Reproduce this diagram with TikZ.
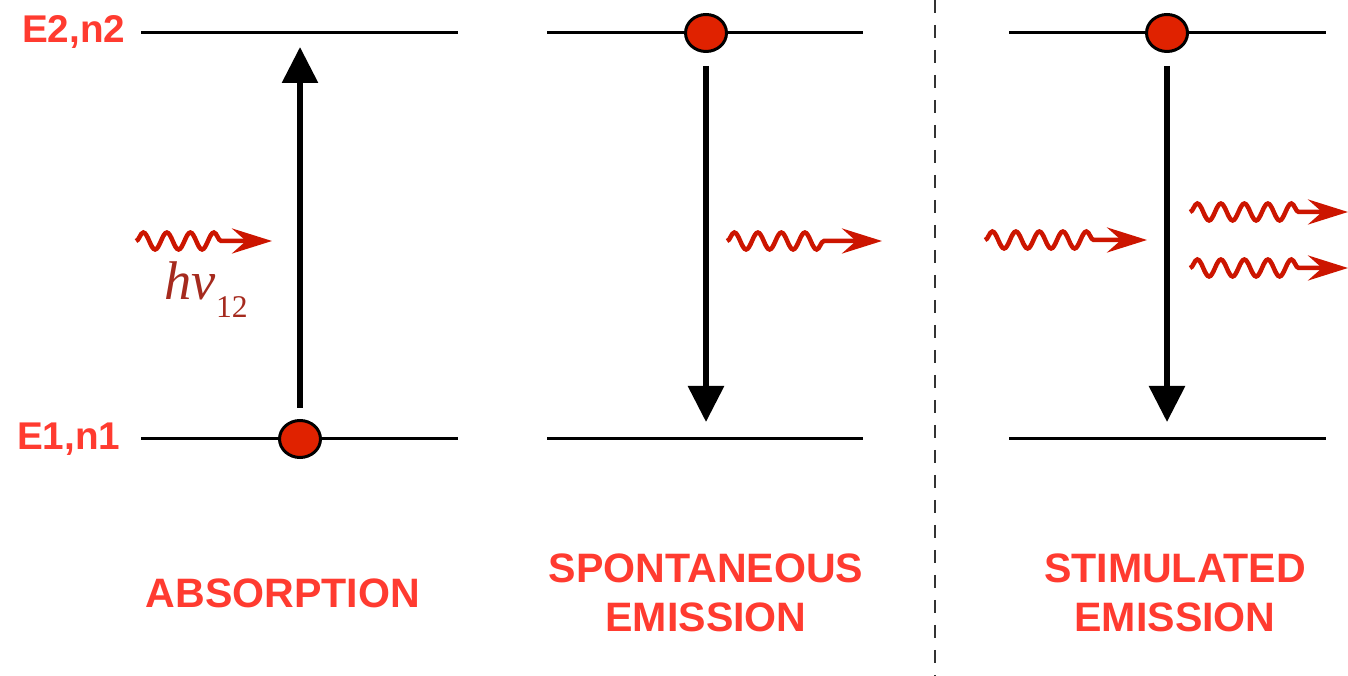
\documentclass[tikz,border=0pt]{standalone}
\usepackage{fontspec}
\setmainfont{Liberation Serif}
\setsansfont{Liberation Sans}
\usepackage{tikz}
\usetikzlibrary{shapes.geometric,arrows.meta,decorations.pathmorphing}

\definecolor{lblred}{HTML}{FF3B30}
\definecolor{elred}{HTML}{E02200}
\definecolor{phred}{HTML}{CC1500}
\definecolor{hvred}{HTML}{A52A1E}

\tikzset{
	level/.style={line width=0.3mm},
	electron/.style={ellipse, draw, line width=0.3mm, fill=elred, minimum width=4.1mm, minimum height=3.7mm, inner sep=0pt},
	trans/.style={line width=0.6mm, -{Triangle[width=3.5mm,length=3.6mm]}},
	photon/.style={phred, line width=0.45mm, -{Stealth[length=4mm,width=2.5mm,inset=1.4mm]},
		decorate, decoration={snake, amplitude=0.85mm, segment length=2.35mm, post length=4.8mm}},
	lbl/.style={font=\sffamily\bfseries\fontsize{11.7}{14}\selectfont, text=lblred, align=center},
	lvllbl/.style={font=\sffamily\bfseries\fontsize{11}{13}\selectfont, text=lblred, inner sep=0pt, anchor=base east}
}

\begin{document}
\begin{tikzpicture}[x=0.1mm, y=-0.1mm]
\useasboundingbox (0,0) rectangle (1348,676);

% ---- energy levels ----
\foreach \xa/\xb in {141/458,547/863,1009/1326}{
	\draw[level] (\xa,33) -- (\xb,33);
	\draw[level] (\xa,439) -- (\xb,439);
}
\node[lvllbl] (lvl2) at (126,43) {E2,n2};
\node[lvllbl] (lvl1) at (121,450) {E1,n1};

% separator
\draw[black!80, line width=0.2mm, dash pattern=on 1.3mm off 1.2mm] (935,0) -- (935,676);

% ---- absorption ----
\node[electron] (abs-el) at (300,439) {};
\coordinate (abs-tip) at (300,47);
\draw[trans, shorten <=1.1mm] (abs-el) -- (abs-tip);
\coordinate (abs-ph0) at (136,241);
\coordinate (abs-ph1) at (272,241);
\draw[photon] (abs-ph0) -- (abs-ph1);
\node[text=hvred, anchor=base west, inner sep=0pt] (abs-hv) at (164,300)
	{\fontsize{15.5}{16}\selectfont\itshape hv\raisebox{-1.8mm}{\upshape\fontsize{9}{10}\selectfont 12}};
\node[lbl] (abs-lbl) at (283,593) {ABSORPTION};

% ---- spontaneous emission ----
\node[electron] (spo-el) at (706,33) {};
\coordinate (spo-tip) at (706,422);
\draw[trans, shorten <=1.3mm] (spo-el) -- (spo-tip);
\coordinate (spo-ph0) at (727,241);
\coordinate (spo-ph1) at (882,241);
\draw[photon] (spo-ph0) -- (spo-ph1);
\node[lbl] (spo-lbl) at (706,593) {SPONTANEOUS\\EMISSION};

% ---- stimulated emission ----
\node[electron] (sti-el) at (1167,33) {};
\coordinate (sti-tip) at (1167,422);
\draw[trans, shorten <=1.3mm] (sti-el) -- (sti-tip);
\coordinate (sti-in0) at (985,240);
\coordinate (sti-in1) at (1147,240);
\draw[photon] (sti-in0) -- (sti-in1);
\foreach \y/\n in {212/a,268/b}{
	\coordinate (sti-out\n0) at (1190,\y);
	\coordinate (sti-out\n1) at (1348,\y);
	\draw[photon] (sti-out\n0) -- (sti-out\n1);
}
\node[lbl] (sti-lbl) at (1175,593) {STIMULATED\\EMISSION};
\end{tikzpicture}
\end{document}
